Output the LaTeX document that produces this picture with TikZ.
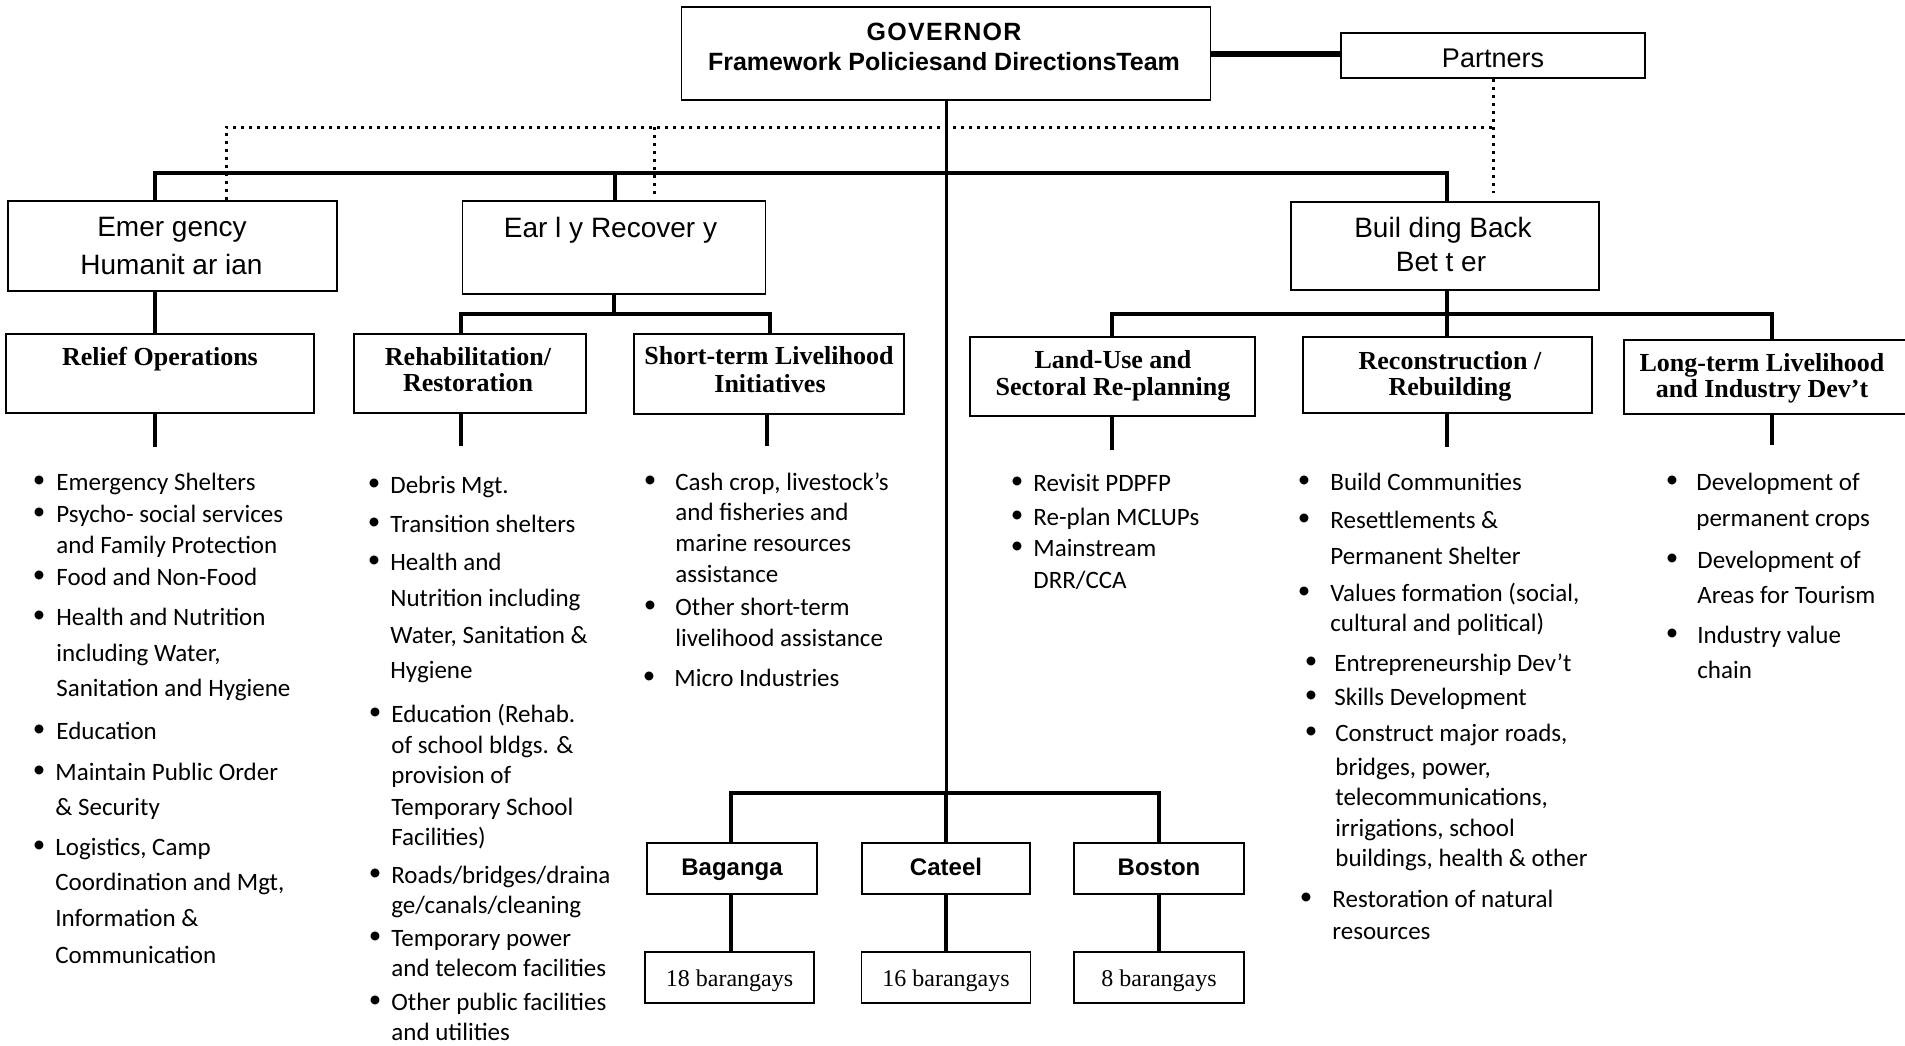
\documentclass[tikz,border=0pt]{standalone}
\usepackage{fontspec}
\newfontfamily\bodyf{Carlito}
\newfontfamily\hsans{Liberation Sans}
\newfontfamily\hserif{Liberation Serif}
\newcommand\bulletcol[2]{%
  \foreach \ty/\bx/\tx/\txt [count=\i] in {#2} {%
    \ifnum\bx>0 \node[bul] (#1-b\i) at (\bx,\ty) {\textbullet};\fi
    \node[itm] (#1-\i) at (\tx,\ty) {\txt};
  }}
\begin{document}
\begin{tikzpicture}[x=0.5pt,y=-0.5pt,
  bx/.style 2 args={draw, line width=0.8pt, inner sep=0pt, minimum width=#1*0.5pt, minimum height=#2*0.5pt},
  bar/.style={line width=2pt, line join=miter},
  vl/.style={line width=1.7pt},
  mainl/.style={line width=1.5pt},
  dots/.style={line width=1.5pt, dash pattern=on 1.5pt off 2.5pt},
  itm/.style={font=\bodyf\fontsize{12.5pt}{15pt}\selectfont, inner sep=0pt, anchor=west, text height=8.05pt, text depth=0pt},
  bul/.style={font=\bodyf\fontsize{12.5pt}{15pt}\selectfont, inner sep=0pt},
  hdr/.style={font=\hserif\bfseries\fontsize{13pt}{15pt}\selectfont, inner sep=0pt, text height=8.6pt, text depth=0pt},
  toptxt/.style={font=\hsans\fontsize{14pt}{16pt}\selectfont, inner sep=0pt, text height=10pt, text depth=0pt},
  govtxt/.style={font=\hsans\bfseries\fontsize{12.5pt}{15pt}\selectfont, inner sep=0pt, text height=8.95pt, text depth=0pt},
  munitxt/.style={font=\hsans\bfseries\fontsize{12pt}{14pt}\selectfont, text height=7pt, text depth=0pt},
  brgtxt/.style={font=\hserif\fontsize{12pt}{14pt}\selectfont, text height=9pt, text depth=0pt},
  parttxt/.style={font=\hsans\fontsize{13.5pt}{16pt}\selectfont, text height=11.7pt, text depth=0pt}
]
\fill[white] (0,0) rectangle (1905,1045);
\clip (0,0) rectangle (1905,1045);

% ---------- boxes ----------
\node[bx={529}{93}] (gov) at (946,53.5) {};
\node[bx={304}{45}, parttxt] (partners) at (1493,55.5) {Partners};
\node[bx={329}{90}] (emer) at (172.5,246) {};
\node[bx={303}{93}] (early) at (614,247.5) {};
\node[bx={308}{88}] (bbb) at (1445,246) {};
\node[bx={308}{79}] (relief) at (160,373.5) {};
\node[bx={232}{79}] (rehab) at (470,373.5) {};
\node[bx={270}{80}] (short) at (769,374) {};
\node[bx={285}{79}] (land) at (1112.5,376.5) {};
\node[bx={289}{76}] (recon) at (1447.5,375) {};
\node[bx={290}{74}] (long) at (1769,377) {};
\node[bx={170}{51}, munitxt] (baganga) at (732,868.5) {Baganga};
\node[bx={168}{51}, munitxt] (cateel) at (946,868.5) {Cateel};
\node[bx={170}{51}, munitxt] (boston) at (1159,868.5) {Boston};
\node[bx={169}{51}, brgtxt] (b18) at (729.5,977.5) {18 barangays};
\node[bx={169}{51}, brgtxt] (b16) at (946,977.5) {16 barangays};
\node[bx={170}{51}, brgtxt] (b8) at (1159,977.5) {8 barangays};

% ---------- box texts ----------
\node[govtxt] (gov-t1) at (944,31.5) {\addfontfeatures{LetterSpace=5}GOVERNOR};
\node[govtxt] (gov-t2) at (944,62) {Framework Policiesand DirectionsTeam};
\node[toptxt] (emer-t1) at (172,226) {Emer gency};
\node[toptxt] (emer-t2) at (171.5,264) {Humanit ar ian};
\node[toptxt] (early-t) at (610.5,227) {Ear l y Recover y};
\node[toptxt] (bbb-t1) at (1443,227) {Buil ding Back};
\node[toptxt] (bbb-t2) at (1441,261) {Bet t er};

\node[hdr] (relief-t) at (160,357) {Relief Operations};
\node[hdr] (rehab-t1) at (468,357) {Rehabilitation/};
\node[hdr] (rehab-t2) at (468,383) {Restoration};
\node[hdr] (short-t1) at (769,356) {Short-term Livelihood};
\node[hdr] (short-t2) at (770,384) {Initiatives};
\node[hdr] (land-t1) at (1113,360) {Land-Use and};
\node[hdr] (land-t2) at (1113,387) {Sectoral Re-planning};
\node[hdr] (recon-t1) at (1450,361) {Reconstruction /};
\node[hdr] (recon-t2) at (1450,387) {Rebuilding};
\node[hdr] (long-t1) at (1762,363) {Long-term Livelihood};
\node[hdr] (long-t2) at (1762,389) {and Industry Dev’t};

% ---------- coordinates ----------
\coordinate (tb1) at (155,173);
\coordinate (tb2) at (1447,173);
\coordinate (erx) at (615,173);
\coordinate (lb1) at (461,314);
\coordinate (lb2) at (770,314);
\coordinate (rb1) at (1112,314);
\coordinate (rb2) at (1772,314);
\coordinate (mb1) at (731,793);
\coordinate (mbc) at (946,793);
\coordinate (mb2) at (1159,793);
\coordinate (d1) at (226,127);
\coordinate (d2) at (654,127);
\coordinate (d2e) at (654,197);
\coordinate (d3) at (1493,127);
\coordinate (d3e) at (1493,193);
\coordinate (s-relief) at (155,447);
\coordinate (s-rehab) at (461,446);
\coordinate (s-short) at (767,446);
\coordinate (s-land) at (1112,450);
\coordinate (s-recon) at (1447,447);
\coordinate (s-long) at (1772,445);

% ---------- dotted partner links ----------
\draw[dots] (d1 |- emer.north) -- (d1) -- (d3);
\draw[dots] (partners.south) -- (d3e);
\draw[dots] (d2) -- (d2e);

% ---------- connectors ----------
\draw[line width=3pt] (gov.east) -- (gov.east -| partners.west);
\draw[mainl] (gov.south) -- (mbc);
\draw[bar] (tb1 |- emer.north) -- (tb1) -- (tb2) -- (tb2 |- bbb.north);
\draw[vl] (erx) -- (erx |- early.north);
\draw[vl] (emer.south -| tb1) -- (relief.north -| tb1);
\draw[vl] (early.south) -- (early.south |- lb1);
\draw[bar] (lb1 |- rehab.north) -- (lb1) -- (lb2) -- (lb2 |- short.north);
\draw[vl] (bbb.south -| tb2) -- (recon.north -| tb2);
\draw[bar] (rb1 |- land.north) -- (rb1) -- (rb2) -- (rb2 |- long.north);
\draw[vl] (relief.south -| s-relief) -- (s-relief);
\draw[vl] (rehab.south -| s-rehab) -- (s-rehab);
\draw[vl] (short.south -| s-short) -- (s-short);
\draw[vl] (land.south -| s-land) -- (s-land);
\draw[vl] (recon.south -| s-recon) -- (s-recon);
\draw[vl] (long.south -| s-long) -- (s-long);
\draw[bar] (mb1 |- baganga.north) -- (mb1) -- (mb2) -- (mb2 |- boston.north);
\draw[vl] (mbc) -- (cateel.north);
\draw[vl] (baganga.south -| mb1) -- (b18.north -| mb1);
\draw[vl] (cateel.south) -- (b16.north);
\draw[vl] (boston.south -| mb2) -- (b8.north -| mb2);

% ---------- bullet lists ----------
\bulletcol{rl}{482/39/56/{Emergency Shelters}, 514/39/56/{Psycho- social services}, 545/0/56/{and Family Protection}, 577/39/56/{Food and Non-Food}, 617/39/56/{Health and Nutrition}, 653/0/56/{including Water,}, 688/0/56/{Sanitation and Hygiene}, 731/39/56/{Education}, 772/39/55/{Maintain Public Order}, 807/0/55/{\& Security}, 847/39/55/{Logistics, Camp}, 882/0/55/{Coordination and Mgt,}, 918/0/55/{Information \&}, 955/0/55/{Communication}}

\bulletcol{rh}{485/374/390/{Debris Mgt.}, 524/374/390/{Transition shelters}, 562/374/390/{Health and}, 598/0/390/{Nutrition including}, 635/0/390/{Water, Sanitation \&}, 670/0/390/{Hygiene}, 714/375/391/{Education (Rehab.}, 745/0/391/{of school bldgs. \&}, 775/0/391/{provision of}, 807/0/391/{Temporary School}, 837/0/391/{Facilities)}, 875/375/391/{Roads/bridges/draina}, 905/0/391/{ge/canals/cleaning}, 938/375/391/{Temporary power}, 968/0/391/{and telecom facilities}, 1002/375/391/{Other public facilities}, 1032/0/391/{and utilities}}

\bulletcol{sl}{482/650/675/{Cash crop, livestock’s}, 512/0/675/{and fisheries and}, 543/0/675/{marine resources}, 574/0/675/{assistance}, 607/650/675/{Other short-term}, 638/0/675/{livelihood assistance}, 678/649/674/{Micro Industries}}

\bulletcol{lu}{483/1017/1033/{Revisit PDPFP}, 517/1017/1033/{Re-plan MCLUPs}, 548/1017/1033/{Mainstream}, 580/0/1033/{DRR/CCA}}

\bulletcol{rc}{482/1304/1330/{Build Communities}, 520/1304/1330/{Resettlements \&}, 556/0/1330/{Permanent Shelter}, 593/1304/1330/{Values formation (social,}, 623/0/1330/{cultural and political)}, 663/1311/1334/{Entrepreneurship Dev’t}, 697/1311/1334/{Skills Development}, 733/1311/1335/{Construct major roads,}, 767/0/1335/{bridges, power,}, 797/0/1335/{telecommunications,}, 828/0/1335/{irrigations, school}, 858/0/1335/{buildings, health \& other}, 899/1306/1332/{Restoration of natural}, 931/0/1332/{resources}}

\bulletcol{lt}{482/1672/1696/{Development of}, 518/0/1696/{permanent crops}, 560/1672/1697/{Development of}, 595/0/1697/{Areas for Tourism}, 635/1672/1697/{Industry value}, 670/0/1697/{chain}}
\end{tikzpicture}
\end{document}
